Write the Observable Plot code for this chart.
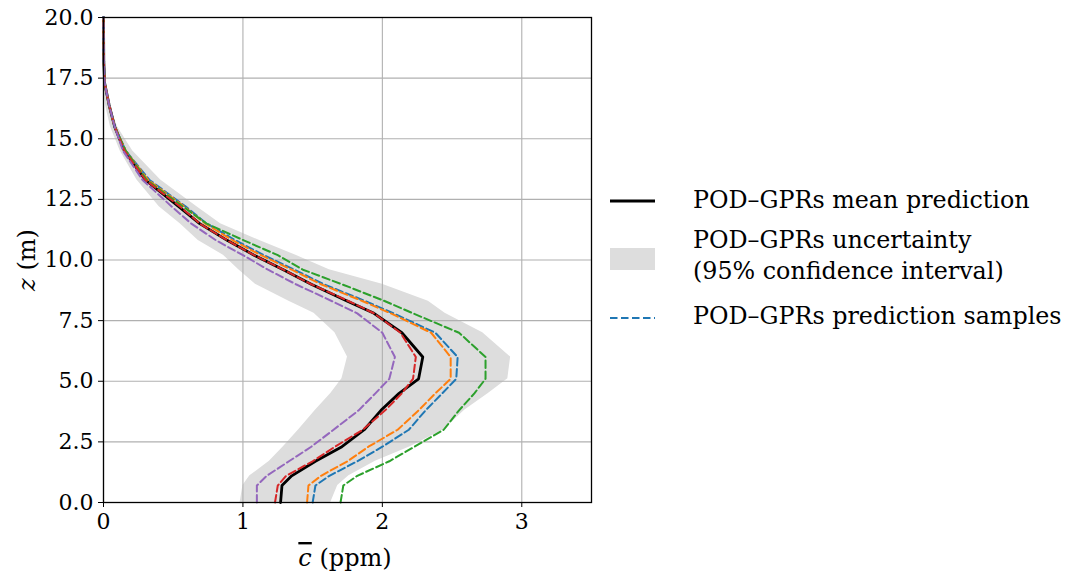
<!DOCTYPE html>
<html><head><meta charset="utf-8">
<script src="https://cdn.jsdelivr.net/npm/d3@7"></script>
<script src="https://cdn.jsdelivr.net/npm/@observablehq/plot@0.6"></script>
<style>
body{margin:0;background:#fff;}
#wrap{position:relative;width:1065px;height:578px;font-family:"DejaVu Serif",serif;color:#000;}
#wrap svg text{font-family:"DejaVu Serif",serif;}
.lg{position:absolute;font-size:23.8px;line-height:31px;white-space:nowrap;}
</style></head><body><div id="wrap"></div>
<script>
// heights (m)
const zLevels = [0, 0.7, 1.1, 1.7, 2.3, 3.0, 3.8, 4.5, 5.1, 6.0, 7.0, 7.8, 8.3, 9.0, 9.6, 10.2, 10.8, 11.5, 12.2, 13.3, 14.5, 15.5, 16.4, 17.3, 18.2, 20];
// POD-GPRs mean prediction (ppm)
const meanC = [1.27, 1.28, 1.35, 1.52, 1.71, 1.87, 1.99, 2.12, 2.26, 2.29, 2.14, 1.94, 1.75, 1.49, 1.29, 1.08, 0.89, 0.69, 0.54, 0.30, 0.15, 0.08, 0.04, 0.008, 0.002, 0];
// 95% confidence interval
const bandLo = [0.98, 1.00, 1.05, 1.19, 1.29, 1.40, 1.52, 1.63, 1.71, 1.75, 1.66, 1.51, 1.33, 1.09, 0.97, 0.86, 0.68, 0.55, 0.40, 0.24, 0.12, 0.05, 0.014, 0.003, 0, 0];
const bandHi = [1.63, 1.68, 1.76, 1.95, 2.20, 2.44, 2.59, 2.76, 2.90, 2.92, 2.72, 2.45, 2.33, 2.00, 1.62, 1.38, 1.12, 0.84, 0.67, 0.41, 0.21, 0.10, 0.045, 0.015, 0.004, 0];
// prediction samples
const sampleBlue   = [1.50, 1.52, 1.62, 1.82, 2.00, 2.19, 2.31, 2.43, 2.53, 2.54, 2.38, 2.08, 1.88, 1.58, 1.37, 1.15, 0.95, 0.74, 0.59, 0.33, 0.16, 0.08, 0.04, 0.008, 0.002, 0];
const sampleOrange = [1.46, 1.47, 1.56, 1.75, 1.90, 2.11, 2.26, 2.38, 2.49, 2.49, 2.35, 2.06, 1.86, 1.56, 1.35, 1.13, 0.93, 0.73, 0.58, 0.32, 0.16, 0.08, 0.04, 0.008, 0.002, 0];
const sampleGreen  = [1.70, 1.72, 1.82, 2.05, 2.23, 2.44, 2.55, 2.66, 2.74, 2.74, 2.55, 2.22, 2.02, 1.71, 1.43, 1.25, 1.01, 0.74, 0.57, 0.31, 0.16, 0.08, 0.04, 0.008, 0.002, 0];
const sampleRed    = [1.23, 1.25, 1.31, 1.50, 1.66, 1.86, 2.02, 2.14, 2.22, 2.24, 2.13, 1.94, 1.76, 1.49, 1.29, 1.08, 0.89, 0.69, 0.55, 0.30, 0.15, 0.08, 0.04, 0.008, 0.002, 0];
const samplePurple = [1.10, 1.10, 1.17, 1.33, 1.49, 1.65, 1.83, 1.95, 2.05, 2.09, 2.00, 1.82, 1.64, 1.38, 1.18, 1.00, 0.81, 0.63, 0.49, 0.28, 0.14, 0.08, 0.04, 0.008, 0.002, 0];
const sampleNames = ["s1", "s2", "s3", "s4", "s5"];
const sampleColors = ["#1f77b4", "#ff7f0e", "#2ca02c", "#d62728", "#9467bd"];
const sampleValues = [sampleBlue, sampleOrange, sampleGreen, sampleRed, samplePurple];
// ticks
const xTicks = [0, 1, 2, 3];
const yTicks = [0, 2.5, 5, 7.5, 10, 12.5, 15, 17.5, 20];
const legendLabels = ["POD–GPRs mean prediction", "POD–GPRs uncertainty", "(95% confidence interval)", "POD–GPRs prediction samples"];

const rows = zLevels.map((z, i) => ({z, lo: bandLo[i], hi: bandHi[i], mean: meanC[i]}));
const sampleRows = sampleValues.flatMap((vals, k) => zLevels.map((z, i) => ({z, c: vals[i], name: sampleNames[k], color: sampleColors[k]})));

const FONT = '"DejaVu Serif", serif';
const plot = Plot.plot({
  width: 1065, height: 578,
  marginLeft: 103, marginRight: 474, marginTop: 17, marginBottom: 76,
  style: {fontFamily: FONT, fontSize: "22px", background: "white", color: "black", overflow: "visible"},
  x: {domain: [0, 3.5], label: null},
  y: {domain: [0, 20], label: null},
  color: {type: "identity"},
  marks: [
    Plot.areaX(rows, {y: "z", x1: "lo", x2: "hi", fill: "#dddddd"}),
    Plot.gridX(xTicks, {stroke: "#b0b0b0", strokeOpacity: 1, strokeWidth: 1.1}),
    Plot.gridY(yTicks, {stroke: "#b0b0b0", strokeOpacity: 1, strokeWidth: 1.1}),
    Plot.line(rows, {x: "mean", y: "z", stroke: "black", strokeWidth: 2.8}),
    Plot.line(sampleRows, {x: "c", y: "z", z: "name", stroke: "color", strokeWidth: 2, strokeDasharray: "7.5,3.5"}),
    Plot.frame({stroke: "black", strokeWidth: 1.3}),
    Plot.axisX(xTicks, {tickFormat: d => String(d), tickSize: 5, tickPadding: 6, fontSize: 22, fontFamily: FONT, label: null}),
    Plot.axisY(yTicks, {tickFormat: d => d.toFixed(1), tickSize: 5, tickPadding: 5, fontSize: 22, fontFamily: FONT, label: null})
  ]
});
const wrap = document.getElementById("wrap");
wrap.appendChild(plot);

// axis labels
const svg = d3.select(plot);
const xl = svg.append("text").attr("x", 345).attr("y", 566).attr("text-anchor", "middle")
  .attr("font-size", 24).attr("font-family", FONT).attr("fill", "black");
xl.append("tspan").attr("font-style", "italic").style("text-decoration", "overline").text("c");
xl.append("tspan").text(" (ppm)");
const yl = svg.append("text").attr("transform", "translate(35,260) rotate(-90)").attr("text-anchor", "middle")
  .attr("font-size", 24).attr("font-family", FONT).attr("fill", "black");
yl.append("tspan").attr("font-style", "italic").text("z");
yl.append("tspan").text(" (m)");

// legend
function add(html, css) { const d = document.createElement("div"); d.innerHTML = html; Object.assign(d.style, css); d.style.position = "absolute"; wrap.appendChild(d); return d; }
add(`<svg width="48" height="10"><line x1="1" x2="46" y1="5" y2="5" stroke="black" stroke-width="2.8"/></svg>`, {left: "609px", top: "196px", lineHeight: 0});
add(`<svg width="48" height="24"><rect x="1" y="1" width="45" height="22" fill="#dddddd"/></svg>`, {left: "609px", top: "247px", lineHeight: 0});
add(`<svg width="48" height="10"><line x1="1" x2="46" y1="5" y2="5" stroke="${sampleColors[0]}" stroke-width="2" stroke-dasharray="7.5,3.5"/></svg>`, {left: "609px", top: "313px", lineHeight: 0});
const l1 = add(legendLabels[0], {left: "693px", top: "185px"}); l1.className = "lg";
const l2 = add(legendLabels[1] + "<br>" + legendLabels[2], {left: "693px", top: "225px"}); l2.className = "lg";
const l3 = add(legendLabels[3], {left: "693px", top: "301px"}); l3.className = "lg";
</script></body></html>
